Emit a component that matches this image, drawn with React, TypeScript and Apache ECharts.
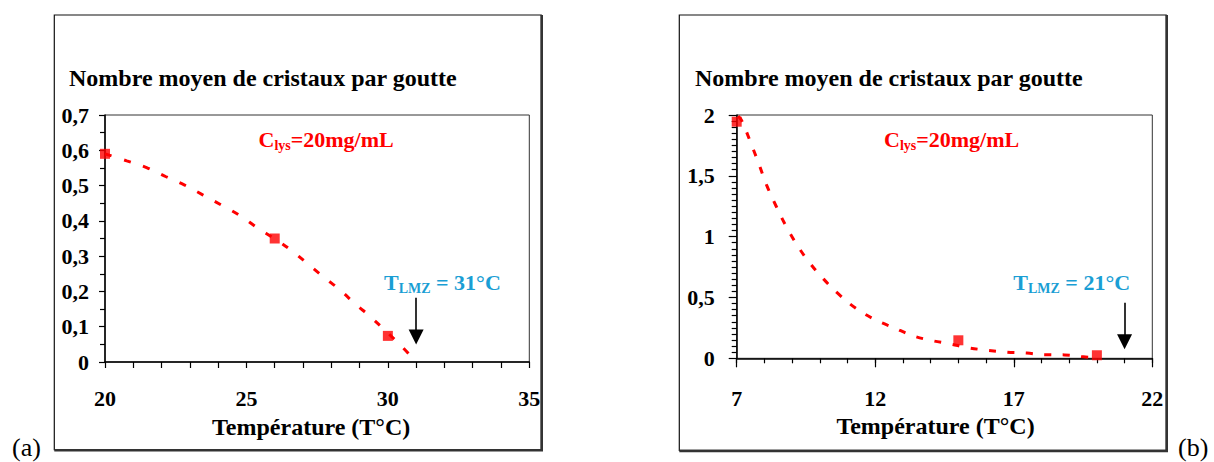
import React, { useEffect, useRef } from "react";
import * as echarts from "echarts";

const FONT = "Liberation Serif, Times New Roman, Times, serif";

// Panel (a)
const tempA = [20, 26, 30];
const countA = [0.59, 0.35, 0.074];
const trendA: [number, number][] = [
  [20.0, 0.59], [20.77, 0.57], [21.47, 0.551], [22.16, 0.525], [22.8, 0.502],
  [23.47, 0.473], [24.13, 0.444], [24.77, 0.415], [25.36, 0.382], [26.0, 0.349],
  [26.56, 0.318], [27.14, 0.28], [27.73, 0.241], [28.31, 0.204], [28.87, 0.163],
  [29.43, 0.125], [30.49, 0.044], [31.0, 0.0],
];
const tlmzA = 31;
const arrowA = [0.182, 0.071];

// Panel (b)
const tempB = [7, 15, 20];
const countB = [1.945, 0.148, 0.025];
const trendB: [number, number][] = [
  [7.05, 1.99], [7.18, 1.953], [7.51, 1.77], [7.8, 1.597], [8.08, 1.424],
  [8.42, 1.252], [8.78, 1.087], [9.2, 0.924], [9.63, 0.786], [10.13, 0.653],
  [10.7, 0.523], [11.32, 0.408], [11.99, 0.318], [12.67, 0.252], [13.35, 0.186],
  [14.02, 0.147], [14.68, 0.119], [15.38, 0.086], [16.05, 0.066], [16.77, 0.05],
  [17.47, 0.043], [18.14, 0.029], [18.83, 0.028], [19.51, 0.012], [20.0, 0.006],
];
const tlmzB = 21;
const arrowB = [0.457, 0.136];
const xTicksB = [7, 12, 17, 22];

const yTitle = "Nombre moyen de cristaux par goutte";
const xName = "Température (T°C)";

const comma = (v: number) => String(Number(v.toFixed(2))).replace(".", ",");

const black = "#000";
const red = "#ff0000";
const cyan = "#1a9ed4";

const labelStyle = { fontSize: 22, fontWeight: "bold" as const, color: black, fontFamily: FONT };
const nameStyle = { fontSize: 24, fontWeight: "bold" as const, color: black, fontFamily: FONT };

function richLabel(x: number, y: number, main1: string, sub: string, main2: string, color: string) {
  return {
    type: "text",
    x,
    y,
    z: 10,
    style: {
      text: `{m|${main1}}{s|${sub}}{m|${main2}}`,
      align: "left",
      verticalAlign: "middle",
      rich: {
        m: { fontSize: 22, fontWeight: "bold", fontFamily: FONT, fill: color, lineHeight: 26 },
        s: { fontSize: 14, fontWeight: "bold", fontFamily: FONT, fill: color, lineHeight: 14, verticalAlign: "bottom" },
      },
    },
  };
}

function frame(x1: number, y1: number, x2: number, y2: number) {
  return [
    { type: "rect", shape: { x: x1, y: y1, width: x2 - x1, height: y2 - y1 }, style: { fill: "none", stroke: "#111", lineWidth: 1.2 } },
    { type: "line", shape: { x1: x2 + 0.6, y1: y1, x2: x2 + 0.6, y2: y2 + 1.2 }, style: { stroke: "#333", lineWidth: 2.4 } },
    { type: "line", shape: { x1: x1, y1: y2 + 0.6, x2: x2 + 1.8, y2: y2 + 0.6 }, style: { stroke: "#333", lineWidth: 2.4 } },
  ];
}

export default function App() {
  const ref = useRef<HTMLDivElement>(null);
  useEffect(() => {
    if (!ref.current) return;
    const chart = echarts.init(ref.current, null, { renderer: "svg" });
    const arrowMark = (x: number, ys: number[]) => ({
      silent: true,
      symbol: ["none", "triangle"],
      symbolSize: 15,
      label: { show: false },
      lineStyle: { color: black, width: 1.6, type: "solid" },
      itemStyle: { color: black },
      data: [[{ coord: [x, ys[0]] }, { coord: [x, ys[1]] }]],
    });
    chart.setOption({
      animation: false,
      backgroundColor: "#fff",
      title: [
        { text: yTitle, left: 69, top: 66, padding: 0, textStyle: nameStyle },
        { text: yTitle, left: 695, top: 66, padding: 0, textStyle: nameStyle },
      ],
      grid: [
        { left: 105, top: 115, width: 424.3, height: 247, show: true, borderColor: "#333", borderWidth: 1, backgroundColor: "transparent" },
        { left: 736.7, top: 115, width: 415.6, height: 243.3, show: true, borderColor: "#333", borderWidth: 1, backgroundColor: "transparent" },
      ],
      xAxis: [
        {
          gridIndex: 0, type: "value", min: 20, max: 35, interval: 5,
          axisLine: { show: true, lineStyle: { color: black, width: 1.5 } },
          axisTick: { show: true, length: 6, lineStyle: { color: black, width: 1.2 } },
          minorTick: { show: true, splitNumber: 5, length: 6, lineStyle: { color: black, width: 1.2 } },
          splitLine: { show: false }, minorSplitLine: { show: false },
          axisLabel: { ...labelStyle, margin: 25 },
          name: xName, nameLocation: "middle", nameGap: 53,
          nameTextStyle: { ...nameStyle, padding: [0, 12, 0, 0] },
        },
        {
          gridIndex: 1, type: "value", min: 7, max: 22, interval: 1, position: "bottom",
          axisLine: { show: true, lineStyle: { color: black, width: 1.5 } },
          axisTick: { show: true, length: 5, lineStyle: { color: black, width: 1.2 } },
          splitLine: { show: false },
          axisLabel: { ...labelStyle, margin: 29, customValues: xTicksB },
          name: xName, nameLocation: "middle", nameGap: 56,
          nameTextStyle: { ...nameStyle, padding: [0, 18, 0, 0] },
        },
        {
          gridIndex: 1, type: "value", min: 7, max: 22, position: "bottom",
          axisLine: { show: false },
          axisTick: { show: true, length: 9, customValues: xTicksB, lineStyle: { color: black, width: 1.2 } },
          axisLabel: { show: false },
          splitLine: { show: false },
        },
      ],
      yAxis: [
        {
          gridIndex: 0, type: "value", min: 0, max: 0.7, interval: 0.1,
          axisLine: { show: true, lineStyle: { color: black, width: 1.5 } },
          axisTick: { show: true, length: 6, lineStyle: { color: black, width: 1.2 } },
          minorTick: { show: true, splitNumber: 2, length: 5, lineStyle: { color: black, width: 1.2 } },
          splitLine: { show: false }, minorSplitLine: { show: false },
          axisLabel: { ...labelStyle, margin: 16, formatter: comma },
        },
        {
          gridIndex: 1, type: "value", min: 0, max: 2, interval: 0.5,
          axisLine: { show: true, lineStyle: { color: black, width: 1.5 } },
          axisTick: { show: true, length: 8, lineStyle: { color: black, width: 1.2 } },
          minorTick: { show: true, splitNumber: 10, length: 5, lineStyle: { color: black, width: 1.2 } },
          splitLine: { show: false }, minorSplitLine: { show: false },
          axisLabel: { ...labelStyle, margin: 22, formatter: comma },
        },
      ],
      series: [
        {
          name: "Tendance (a)", type: "line", xAxisIndex: 0, yAxisIndex: 0,
          data: trendA, smooth: 0.4, showSymbol: false, symbol: "none", z: 2,
          lineStyle: { color: red, width: 3, type: [7, 13] },
        },
        {
          name: "Mesures (a)", type: "scatter", xAxisIndex: 0, yAxisIndex: 0,
          data: tempA.map((t, i) => [t, countA[i]]),
          symbol: "rect", symbolSize: 10, itemStyle: { color: red }, z: 3,
          markLine: arrowMark(tlmzA, arrowA),
        },
        {
          name: "Tendance (b)", type: "line", xAxisIndex: 1, yAxisIndex: 1,
          data: trendB, smooth: 0.4, showSymbol: false, symbol: "none", z: 2,
          lineStyle: { color: red, width: 3, type: [7, 11.5] },
        },
        {
          name: "Mesures (b)", type: "scatter", xAxisIndex: 1, yAxisIndex: 1,
          data: tempB.map((t, i) => [t, countB[i]]),
          symbol: "rect", symbolSize: 10, itemStyle: { color: red }, z: 3,
          markLine: arrowMark(tlmzB, arrowB),
        },
      ],
      graphic: [
        ...frame(54.3, 15, 541.2, 449.7),
        ...frame(679.3, 15, 1166.2, 450.4),
        richLabel(258.5, 139, "C", "lys", "=20mg/mL", red),
        richLabel(884, 139, "C", "lys", "=20mg/mL", red),
        richLabel(384, 282, "T", "LMZ", " = 31°C", cyan),
        richLabel(1013.3, 282, "T", "LMZ", " = 21°C", cyan),
        { type: "text", x: 12, y: 447, style: { text: "(a)", fontSize: 26, fontFamily: FONT, fill: black, align: "left", verticalAlign: "middle" } },
        { type: "text", x: 1178, y: 447, style: { text: "(b)", fontSize: 26, fontFamily: FONT, fill: black, align: "left", verticalAlign: "middle" } },
      ],
    });
    return () => chart.dispose();
  }, []);
  return <div ref={ref} style={{ position: "fixed", left: 0, top: 0, width: 1214, height: 462, background: "#fff" }} />;
}
